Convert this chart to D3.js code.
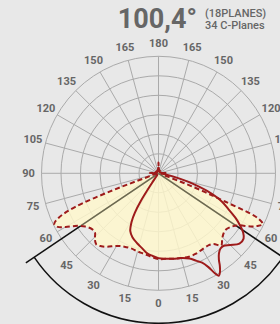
<!DOCTYPE html>
<html>
<head>
<meta charset="utf-8">
<script src="https://cdn.jsdelivr.net/npm/d3@7"></script>
<style>
  html, body { margin: 0; padding: 0; background: #e8e8e8; }
  svg { display: block; font-family: Roboto, "Noto Sans", sans-serif; }
</style>
</head>
<body>
<div id="chart"></div>
<script>
// beam angle text
var beamAngle = "100,4°";
var planesInfo = ["(18PLANES)", "34 C-Planes"];

// angular tick labels (degrees from nadir)
var tickAngles = [0, 15, 30, 45, 60, 75, 90, 105, 120, 135, 150, 165, 180];

// C0-C180 plane (dashed, filled) : signed angle, intensity
var c0Angles = [-180, -165, -150, -135, -120, -105, -92, -85, -78, -74, -72, -70.5, -69.5, -68, -66, -64, -62, -60, -57, -54, -50, -47, -44, -41, -38, -35, -30, -25, -20, -15, -10, -5,
                0, 5, 10, 15, 20, 25, 30, 35, 38, 41, 44, 47, 50, 54, 57, 60, 62, 64, 65.5, 66.3, 67, 68, 69, 70, 74, 78, 85, 92, 105, 120, 135, 150, 165];
var c0Values = [11, 2, 3, 2, 3, 2, 9, 3, 4, 6, 9, 23, 53, 92, 112, 119, 117, 110, 99, 93, 89, 89, 94, 97, 95, 92, 86, 83, 82, 83, 84, 86,
                88, 88, 89, 90, 91, 91, 90, 90, 92, 98, 94, 91, 90, 93, 98, 109, 115, 119, 113, 103, 74, 51, 29, 10, 5, 4, 3, 9, 2, 3, 2, 3, 2];

// C90-C270 plane (solid)
var c90Angles = [-180, -150, -120, -90, -60, -40, -36, -34, -32.5, -31, -29, -26, -22, -17, -12, -8, -4,
                 0, 5, 10, 15, 20, 23.5, 26, 28, 29.5, 30.5, 32, 33.5, 35, 37, 39.5, 42, 45, 49, 52.5, 55, 57.5, 60, 63, 66, 70, 74, 78, 82, 86, 90, 120, 150];
var c90Values = [6, 2, 2, 5, 2, 2, 3, 12, 34, 47, 57, 66, 71, 75, 79, 83, 85,
                 87, 88, 89, 90, 93, 98, 102, 109, 118, 122, 119, 114, 108, 103, 100, 100, 104, 110, 110, 106, 99, 91, 80, 71, 53, 32, 15, 6, 3, 5, 2, 2];

var halfBeam = 56;

var width = 280, height = 324;
var cx = 158.5, cy = 173.3, R = 117;

var svg = d3.select("#chart").append("svg")
    .attr("width", width)
    .attr("height", height);

svg.append("rect").attr("width", width).attr("height", height).attr("fill", "#e8e8e8");

var g = svg.append("g").attr("transform", "translate(" + cx + "," + cy + ")");

var r = d3.scaleLinear().domain([0, 120]).range([0, R]);
var toRad = function(a) { return Math.PI - a * Math.PI / 180; };

// grid circles
g.selectAll("circle.ring")
    .data(d3.range(20, 121, 20))
    .enter().append("circle")
    .attr("class", "ring")
    .attr("r", function(d) { return r(d); })
    .attr("fill", "none")
    .attr("stroke", "#aaa")
    .attr("stroke-width", 1);

// spokes every 15 deg
g.selectAll("line.spoke")
    .data(d3.range(0, 360, 15))
    .enter().append("line")
    .attr("class", "spoke")
    .attr("x1", 0).attr("y1", 0)
    .attr("x2", function(d) { return R * Math.sin(toRad(d)); })
    .attr("y2", function(d) { return -R * Math.cos(toRad(d)); })
    .attr("stroke", "#aaa")
    .attr("stroke-width", 1);

// beam angle lines + arc
var lineR = 160, arcR = 150;
var beamSides = [-halfBeam, halfBeam];
g.selectAll("line.beam")
    .data(beamSides)
    .enter().append("line")
    .attr("class", "beam")
    .attr("x1", 0).attr("y1", 0)
    .attr("x2", function(d) { return lineR * Math.sin(toRad(d)); })
    .attr("y2", function(d) { return -lineR * Math.cos(toRad(d)); })
    .attr("stroke", "#111")
    .attr("stroke-width", 1.5);

var p = d3.path();
p.arc(0, 0, arcR, Math.PI / 2 - halfBeam * Math.PI / 180, Math.PI / 2 + halfBeam * Math.PI / 180, false);
g.append("path").attr("d", p.toString()).attr("fill", "none").attr("stroke", "#111").attr("stroke-width", 1.5);

var radial = d3.lineRadial()
    .angle(function(d) { return toRad(d.a); })
    .radius(function(d) { return r(d.v); })
    .curve(d3.curveCatmullRomClosed.alpha(0.5));

var c0 = c0Angles.map(function(a, i) { return {a: a, v: c0Values[i]}; });
var c90 = c90Angles.map(function(a, i) { return {a: a, v: c90Values[i]}; });

// fill for C0-C180
g.append("path")
    .attr("d", radial(c0))
    .attr("fill", "#fff8cc")
    .attr("fill-opacity", 0.82)
    .attr("stroke", "none");

// the beam lines seen through the fill
svg.append("defs").append("clipPath").attr("id", "fillclip")
    .append("path").attr("d", radial(c0));
g.append("g").attr("clip-path", "url(#fillclip)")
    .selectAll("line")
    .data(beamSides)
    .enter().append("line")
    .attr("x1", 0).attr("y1", 0)
    .attr("x2", function(d) { return lineR * Math.sin(toRad(d)); })
    .attr("y2", function(d) { return -lineR * Math.cos(toRad(d)); })
    .attr("stroke", "#6b6850")
    .attr("stroke-width", 1.5);

// curves
g.append("path")
    .attr("d", radial(c90))
    .attr("fill", "none")
    .attr("stroke", "#9e1b1b")
    .attr("stroke-width", 2);

g.append("path")
    .attr("d", radial(c0))
    .attr("fill", "none")
    .attr("stroke", "#9e1b1b")
    .attr("stroke-width", 2)
    .attr("stroke-dasharray", "5,3");

// angle labels on both sides
var labels = [];
tickAngles.forEach(function(t) {
    labels.push(t);
    if (t > 0 && t < 180) labels.push(-t);
});
g.selectAll("text.tick")
    .data(labels)
    .enter().append("text")
    .attr("class", "tick")
    .attr("x", function(d) { return 130 * Math.sin(toRad(d)); })
    .attr("y", function(d) { return -130 * Math.cos(toRad(d)); })
    .attr("text-anchor", "middle")
    .attr("dominant-baseline", "central")
    .attr("font-size", 11)
    .attr("font-weight", "bold")
    .attr("fill", "#666")
    .text(function(d) { return Math.abs(d); });

// title
svg.append("text")
    .attr("x", 197).attr("y", 27.5)
    .attr("text-anchor", "end")
    .attr("font-size", 27)
    .attr("font-weight", "bold")
    .attr("fill", "#666")
    .text(beamAngle);

svg.selectAll("text.info")
    .data(planesInfo)
    .enter().append("text")
    .attr("class", "info")
    .attr("x", 205)
    .attr("y", function(d, i) { return 17 + i * 12; })
    .attr("font-size", 11)
    .attr("font-weight", 500)
    .attr("fill", "#666")
    .text(function(d) { return d; });
</script>
</body>
</html>
